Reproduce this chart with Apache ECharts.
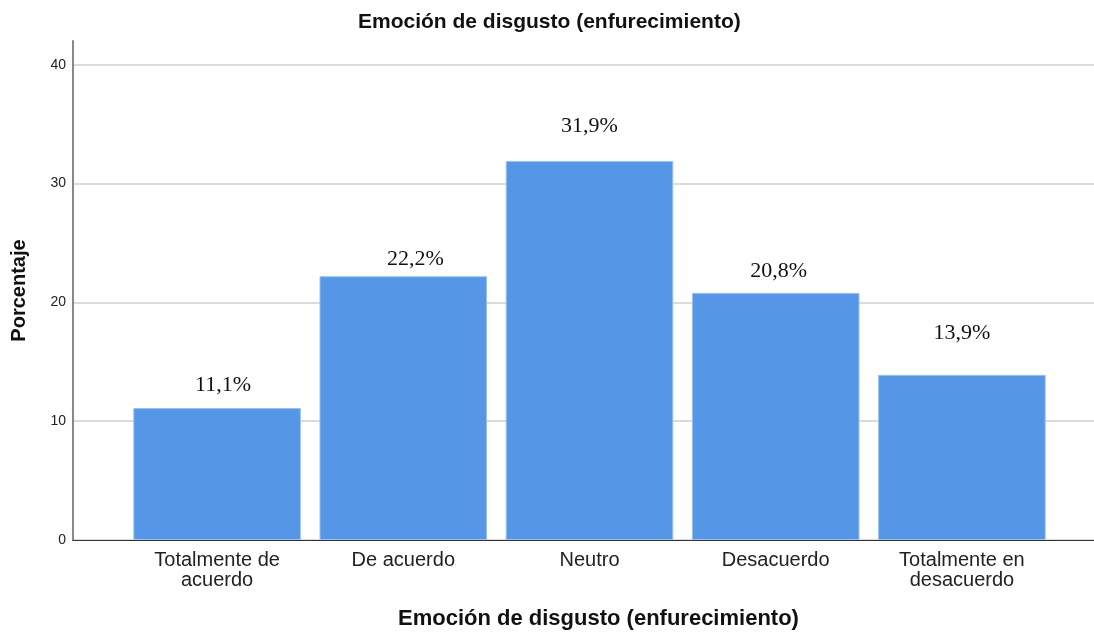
<!DOCTYPE html>
<html>
<head>
<meta charset="utf-8">
<script src="https://cdn.jsdelivr.net/npm/echarts@6/dist/echarts.min.js"></script>
<style>
  html, body { margin: 0; padding: 0; background: #fff; }
  #chart { width: 1094px; height: 636px; }
</style>
</head>
<body>
<div id="chart"></div>
<script>
// datos
const categorias = ['Totalmente de\nacuerdo', 'De acuerdo', 'Neutro', 'Desacuerdo', 'Totalmente en\ndesacuerdo'];
const porcentajes = [11.1, 22.2, 31.9, 20.8, 13.9];
const ticksY = [0, 10, 20, 30, 40];

const titulo = 'Emoción de disgusto (enfurecimiento)';

// SPSS coloca las etiquetas un poco irregulares: separación y desplazamiento por barra
const distEtiqueta = [12, 6, 24, 11, 31];
const despEtiqueta = [6, 12, 0, 3, 0];

const myChart = echarts.init(document.getElementById('chart'));
myChart.setOption({
  animation: false,
  title: [
    {
      text: titulo,
      left: 358, top: 12, padding: 0,
      textStyle: { fontFamily: 'Liberation Sans', fontSize: 21, fontWeight: 'bold', color: '#111' }
    },
    {
      // nombre del eje x
      text: titulo,
      left: 398, top: 608, padding: 0,
      textStyle: { fontFamily: 'Liberation Sans', fontSize: 22, fontWeight: 'bold', color: '#111' }
    }
  ],
  grid: [
    // grid de fondo: eje y + líneas de la rejilla
    { left: 73, right: 0, top: 41, bottom: 96 },
    // grid de las barras
    { left: 124, right: 39, top: 41, bottom: 96 }
  ],
  xAxis: [
    {
      gridIndex: 0, type: 'value', min: 0, max: 1,
      axisLine: { show: true, lineStyle: { color: '#333', width: 1.2 } },
      axisTick: { show: false }, axisLabel: { show: false }, splitLine: { show: false }
    },
    {
      gridIndex: 1, type: 'category', data: categorias,
      axisLine: { show: false }, axisTick: { show: false },
      axisLabel: {
        margin: 10, fontFamily: 'Liberation Sans', fontSize: 20, lineHeight: 20, color: '#222'
      }
    }
  ],
  yAxis: [
    {
      gridIndex: 0, type: 'value', min: 0, max: 42,
      name: 'Porcentaje', nameLocation: 'middle', nameGap: 44, nameRotate: 90,
      nameTextStyle: { fontFamily: 'Liberation Sans', fontSize: 20, fontWeight: 'bold', color: '#111' },
      axisLine: { show: true, lineStyle: { color: '#888', width: 2 } },
      axisTick: { show: false, customValues: ticksY },
      axisLabel: {
        customValues: ticksY, margin: 7,
        fontFamily: 'Liberation Sans', fontSize: 14, color: '#222'
      },
      splitLine: { show: true, lineStyle: { color: '#cfcfcf', width: 1.5 } }
    },
    {
      gridIndex: 1, type: 'value', min: 0, max: 42, show: false,
      splitLine: { show: false }
    }
  ],
  series: [
    {
      type: 'bar',
      xAxisIndex: 1, yAxisIndex: 1,
      data: porcentajes.map((v, i) => ({
        value: v,
        label: { distance: distEtiqueta[i], offset: [despEtiqueta[i], 0] }
      })),
      barCategoryGap: '10%',
      itemStyle: { color: '#5596e6', borderColor: '#9cc1f0', borderWidth: 1 },
      label: {
        show: true, position: 'top', distance: 24,
        fontFamily: 'Liberation Serif', fontSize: 22, color: '#111',
        formatter: p => p.value.toFixed(1).replace('.', ',') + '%'
      }
    }
  ]
});
</script>
</body>
</html>
